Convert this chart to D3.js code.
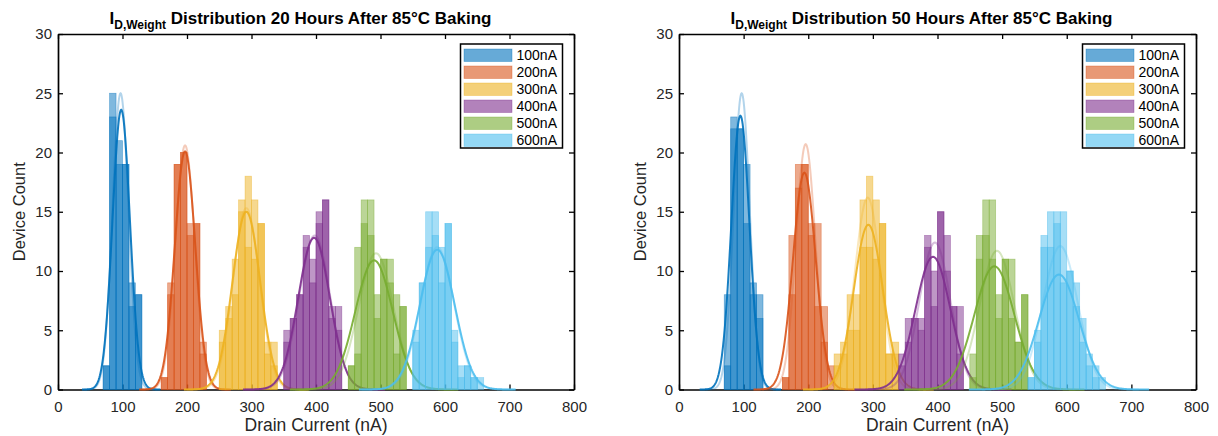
<!DOCTYPE html>
<html><head><meta charset="utf-8">
<script src="https://cdn.jsdelivr.net/npm/d3@7/dist/d3.min.js"></script>
<style>
body{margin:0;background:#fff}
text{font-family:"Liberation Sans",Arial,Helvetica,sans-serif}
</style>
</head><body>
<svg id="chart" width="1218" height="436"></svg>
<script>
// ---------------- data ----------------
const currents = ["100nA","200nA","300nA","400nA","500nA","600nA"];
const colors = ["#0072BD","#D95319","#EDB120","#7E2F8E","#77AC30","#4DBEEE"];
const xTicks = [0,100,200,300,400,500,600,700,800];
const yTicks = [0,5,10,15,20,25,30];
const binWidth = 10;
const titles = ["Distribution 20 Hours After 85°C Baking","Distribution 50 Hours After 85°C Baking"];

// 20 hours panel
const binStart20 = [70,160,250,350,450,550];
const refCounts20 = [
  [2,25,21,19,9,8],
  [1,9,19,20,14,14,4],
  [5,7,11,16,18,16,14,4,4],
  [5,6,8,13,11,15,16,7,7],
  [2,12,16,16,8,11,11,8,7],
  [5,9,15,15,12,14,5,2,2,1,1]
];
const bakedCounts20 = [
  [2,23,19,19,7,8],
  [1,8,19,20,13,14,3],
  [4,6,8,15,12,11,14,3,2],
  [4,6,8,12,9,14,16,6,5],
  [2,3,14,13,6,11,9,3,7],
  [4,9,12,13,9,14,4,1,2,1,0]
];
const refFitMean20   = [97,197,292,398,493,588];
const refFitSigma20  = [12.5,15.0,20.5,24,27,26];
const refFitPeak20   = [25.0,20.6,15.3,13.0,11.5,12.0];
const bakedFitMean20 = [98,197,292,397,490,588];
const bakedFitSigma20= [13.5,15.8,21.5,24.5,29,27];
const bakedFitPeak20 = [23.6,20.1,15.0,12.8,10.9,11.8];

// 50 hours panel
const binStart50 = [70,160,240,340,450,540];
const refCounts50 = [
  [2,23,22,19,9,8],
  [1,8,19,19,14,14,4,0],
  [3,4,8,8,16,18,16,14,3,3],
  [2,4,6,6,13,10,15,13,7,7],
  [3,13,16,16,8,11,11,4,8],
  [1,5,12,15,15,15,10,7,4,2,1,0]
];
const bakedCounts50 = [
  [8,22,22,14,8,6],
  [1,13,17,19,13,7,7,2],
  [2,3,5,5,12,12,11,14,3,4],
  [3,6,6,5,12,7,15,10,7,3],
  [1,11,13,11,6,11,6,4,8],
  [1,4,13,12,14,9,10,9,6,3,2,1]
];
const refFitMean50   = [97,196,292,396,492,590];
const refFitSigma50  = [12.5,15,20,24,27,27];
const refFitPeak50   = [25.0,20.7,16.2,12.4,11.7,12.1];
const bakedFitMean50 = [95,194,293,393,488,588];
const bakedFitSigma50= [14,17.5,22.5,27,31,31];
const bakedFitPeak50 = [23.1,18.3,13.9,11.2,10.4,9.7];

// ---------------- drawing ----------------
const svg = d3.select("#chart");
const FONT = '"Liberation Sans",Arial,Helvetica,sans-serif';

const panels = [
  {left:58, right:574, title:titles[0], titleX:300.5,
   binStart:binStart20, ref:refCounts20, baked:bakedCounts20,
   refFit:[refFitMean20,refFitSigma20,refFitPeak20],
   bakedFit:[bakedFitMean20,bakedFitSigma20,bakedFitPeak20]},
  {left:679, right:1196, title:titles[1], titleX:921.5,
   binStart:binStart50, ref:refCounts50, baked:bakedCounts50,
   refFit:[refFitMean50,refFitSigma50,refFitPeak50],
   bakedFit:[bakedFitMean50,bakedFitSigma50,bakedFitPeak50]}
];

const TOP = 34, BOTTOM = 389.5;

panels.forEach(p => {
  const x = d3.scaleLinear().domain([0,800]).range([p.left,p.right]);
  const y = d3.scaleLinear().domain([0,30]).range([BOTTOM,TOP]);
  const g = svg.append("g");

  const axB = g.append("g").attr("transform",`translate(0,${BOTTOM})`)
    .call(d3.axisBottom(x).tickValues(xTicks).tickSizeInner(-5).tickSizeOuter(0).tickPadding(12));
  const axT = g.append("g").attr("transform",`translate(0,${TOP})`)
    .call(d3.axisTop(x).tickValues(xTicks).tickSizeInner(-5).tickSizeOuter(0).tickFormat(""));
  const axL = g.append("g").attr("transform",`translate(${p.left},0)`)
    .call(d3.axisLeft(y).tickValues(yTicks).tickSizeInner(-5).tickSizeOuter(0).tickPadding(6));
  const axR = g.append("g").attr("transform",`translate(${p.right},0)`)
    .call(d3.axisRight(y).tickValues(yTicks).tickSizeInner(-5).tickSizeOuter(0).tickFormat(""));
  [axB,axT,axL,axR].forEach(a=>{
    a.select(".domain").attr("stroke","#000").attr("stroke-width",1.7);
    a.selectAll(".tick line").attr("stroke","#000").attr("stroke-width",1.3);
    a.selectAll(".tick text").attr("fill","#262626").style("font-family",FONT).style("font-size","15px");
  });

  const line = d3.line().x(d=>x(d[0])).y(d=>y(d[1]));
  currents.forEach((c,i)=>{
    const col = colors[i];
    [p.ref[i], p.baked[i]].forEach(counts=>{
      g.append("g").selectAll("rect").data(counts.map((v,k)=>({v, x0:p.binStart[i]+k*binWidth})).filter(d=>d.v>0))
        .join("rect")
        .attr("x",d=>x(d.x0)).attr("width",d=>x(d.x0+binWidth)-x(d.x0))
        .attr("y",d=>y(d.v)).attr("height",d=>y(0)-y(d.v))
        .attr("fill",col).attr("fill-opacity",0.5)
        .attr("stroke",col).attr("stroke-opacity",0.5).attr("stroke-width",0.7);
    });
    const fits = [[p.refFit,0.3],[p.bakedFit,0.9]];
    fits.forEach(([f,op])=>{
      const mu=f[0][i], sd=f[1][i], pk=f[2][i];
      const pts = d3.range(mu-4.5*sd, mu+4.5*sd+0.01, sd/20).map(t=>[t, pk*Math.exp(-0.5*((t-mu)/sd)**2)]);
      g.append("path").attr("d",line(pts)).attr("fill","none")
        .attr("stroke",col).attr("stroke-opacity",op).attr("stroke-width",2);
    });
  });

  const t = g.append("text").attr("x",p.titleX).attr("y",24).attr("text-anchor","middle")
    .style("font-family",FONT).style("font-weight","bold").style("font-size","17px").attr("fill","#000");
  t.append("tspan").text("I");
  t.append("tspan").attr("dy",5).style("font-size","12px").text("D,Weight");
  t.append("tspan").attr("dy",-5).text(" " + p.title);

  g.append("text").attr("x",(p.left+p.right)/2).attr("y",431).attr("text-anchor","middle")
    .style("font-family",FONT).style("font-size","17.5px").attr("fill","#262626").text("Drain Current (nA)");
  g.append("text").attr("transform",`translate(${p.left-33},${(TOP+BOTTOM)/2}) rotate(-90)`)
    .attr("text-anchor","middle").style("font-family",FONT).style("font-size","16.5px").attr("fill","#262626").text("Device Count");

  const lg = g.append("g").attr("transform",`translate(${p.right-113.5},44)`);
  lg.append("rect").attr("x",0).attr("y",0).attr("width",102).attr("height",104)
    .attr("fill","#fff").attr("stroke","#000").attr("stroke-width",1.5);
  currents.forEach((c,i)=>{
    lg.append("rect").attr("x",3.5).attr("y",5+17*i).attr("width",48).attr("height",12.5)
      .attr("fill",colors[i]).attr("fill-opacity",0.6).attr("stroke",colors[i]).attr("stroke-opacity",0.5).attr("stroke-width",0.7);
    lg.append("text").attr("x",56).attr("y",11.5+17*i).attr("dy","0.35em")
      .style("font-family",FONT).style("font-size","14px").attr("fill","#000").text(c);
  });
});
</script>
</body></html>
